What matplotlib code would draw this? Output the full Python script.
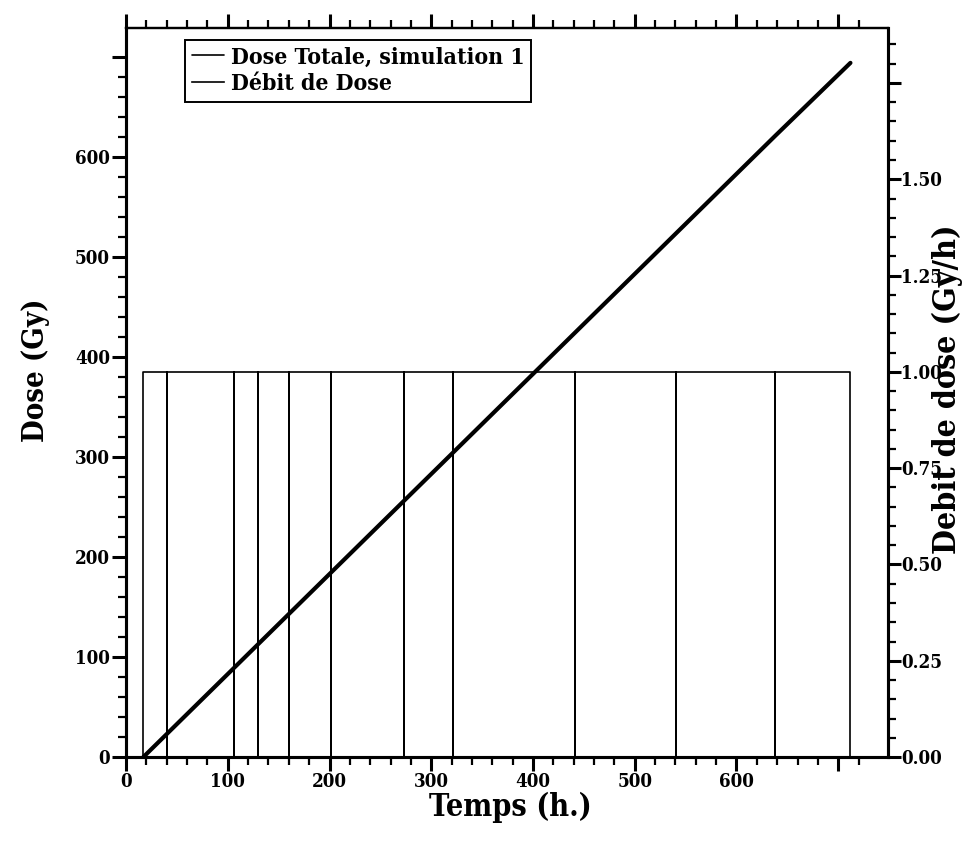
import matplotlib
matplotlib.use("Agg")
import matplotlib.pyplot as plt
import numpy as np
from matplotlib.ticker import FixedLocator, FixedFormatter

# Temps des coupures du débit (h) et dose cumulée lue à ces instants (Gy)
temps = [17, 40, 106, 130, 160, 201, 273, 321, 441, 541, 638, 712]
dose = [0, 23, 89, 113, 143, 184, 256, 304, 424, 524, 621, 694]
debit = 1.0  # Gy/h pendant l'irradiation

x_ticks = [0, 100, 200, 300, 400, 500, 600, 700]
x_labels = ["0", "100", "200", "300", "400", "500", "600", ""]
y_ticks = [0, 100, 200, 300, 400, 500, 600, 700]
y_labels = ["0", "100", "200", "300", "400", "500", "600", ""]
y2_ticks = [0.0, 0.25, 0.5, 0.75, 1.0, 1.25, 1.5, 1.75]
y2_labels = ["0.00", "0.25", "0.50", "0.75", "1.00", "1.25", "1.50", ""]

plt.rcParams["font.family"] = "DejaVu Serif"
plt.rcParams["font.weight"] = "bold"
plt.rcParams["font.stretch"] = "condensed"
plt.rcParams["axes.labelweight"] = "bold"

fig = plt.figure(figsize=(9.77, 8.44), dpi=100)
ax = fig.add_axes([0.129, 0.103, 0.780, 0.864])
ax2 = ax.twinx()

# courbe de débit : créneaux avec retour à zéro à chaque coupure
tx, ty = [temps[0]], [0.0]
for i in range(len(temps) - 1):
    if i > 0:
        tx += [temps[i], temps[i]]
        ty += [0.0, debit]
    else:
        tx.append(temps[i])
        ty.append(debit)
    tx.append(temps[i + 1])
    ty.append(debit)
tx.append(temps[-1])
ty.append(0.0)

l2, = ax2.plot(tx, ty, color="black", linewidth=1.2, label="Débit de Dose")
l1, = ax.plot(temps, dose, color="black", linewidth=3.0,
              solid_capstyle="round", label="Dose Totale, simulation 1")

ax.set_xlim(0, 749)
ax.set_ylim(0, 729)
ax2.set_ylim(0, 1.893)

ax.xaxis.set_major_locator(FixedLocator(x_ticks))
ax.xaxis.set_major_formatter(FixedFormatter(x_labels))
ax.xaxis.set_minor_locator(FixedLocator(np.arange(0, 721, 20)))
ax.yaxis.set_major_locator(FixedLocator(y_ticks))
ax.yaxis.set_major_formatter(FixedFormatter(y_labels))
ax.yaxis.set_minor_locator(FixedLocator(np.arange(0, 701, 20)))
ax2.yaxis.set_major_locator(FixedLocator(y2_ticks))
ax2.yaxis.set_major_formatter(FixedFormatter(y2_labels))
ax2.yaxis.set_minor_locator(FixedLocator(np.arange(0, 1.86, 0.05)))

ax.xaxis.set_ticks_position("both")
ax.tick_params(axis="both", which="major", direction="out", length=10,
               width=2.2, labelsize=13.5, pad=1.5)
ax.tick_params(axis="both", which="minor", direction="out", length=5.5,
               width=1.6)
ax.tick_params(axis="x", which="both", labeltop=False)
ax2.tick_params(axis="y", which="major", direction="out", length=9,
                width=2.2, labelsize=13.5, pad=0.5)
ax2.tick_params(axis="y", which="minor", direction="out", length=5.5,
                width=1.6)

for a in (ax, ax2):
    for side in ("left", "bottom", "right"):
        a.spines[side].set_linewidth(2.2)
    a.spines["top"].set_linewidth(1.6)

ax.set_xlabel("Temps (h.)", fontsize=22, fontweight="bold")
ax.xaxis.set_label_coords(0.504, -0.047)
ax.set_ylabel("Dose (Gy)", fontsize=21, fontweight="bold")
ax.yaxis.set_label_coords(-0.10, 0.53)
ax2.set_ylabel("Debit de dose (Gy/h)", fontsize=23, fontweight="bold",
               rotation=90)
ax2.yaxis.label.set_va("center")
ax2.yaxis.label.set_ha("center")
ax2.yaxis.set_label_coords(1.078, 0.505)

leg = ax.legend([l1, l2], [l1.get_label(), l2.get_label()],
                loc="upper left", bbox_to_anchor=(0.077, 0.984),
                borderaxespad=0, fontsize=16.5, handlelength=1.4,
                handletextpad=0.3, borderpad=0.3, labelspacing=0.2,
                frameon=True, fancybox=False, framealpha=1)
leg.get_frame().set_edgecolor("black")
leg.get_frame().set_linewidth(1.4)
for h in leg.get_lines():
    h.set_linewidth(1.2)

fig.savefig("out.png", dpi=100)
